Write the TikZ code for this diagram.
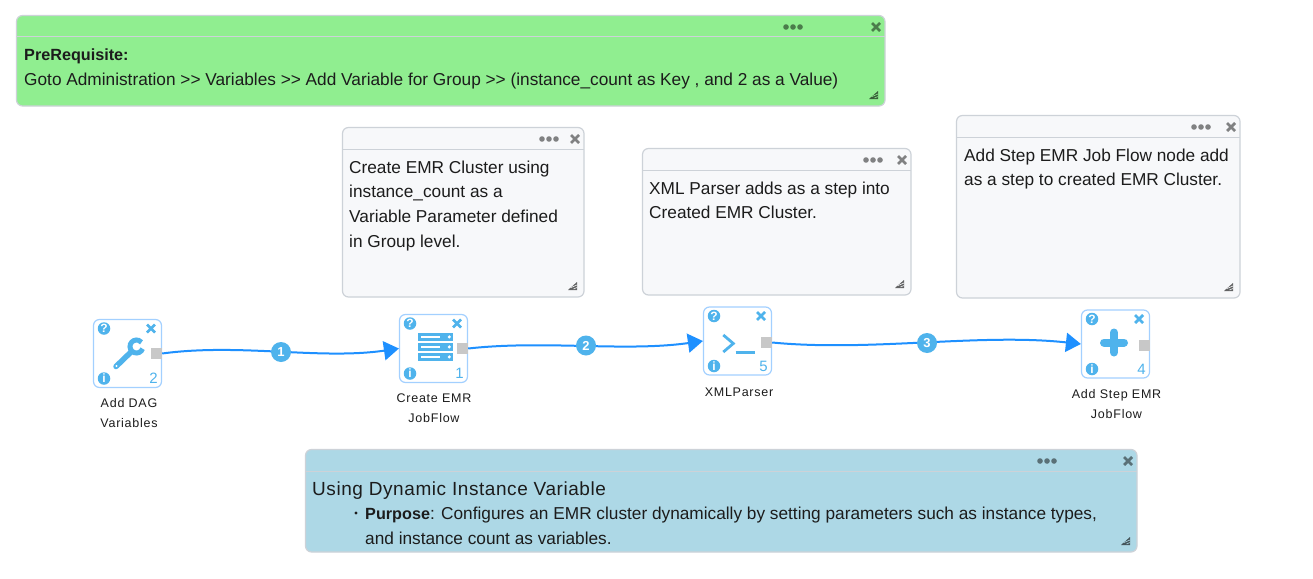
\documentclass[tikz,border=0pt]{standalone}
\usepackage{fontspec}
\setmainfont{Liberation Sans}
\newfontfamily\labelfont[LetterSpace=6]{Liberation Sans}
\newfontfamily\titlefont[LetterSpace=3]{Liberation Sans}
\usetikzlibrary{arrows.meta}
\definecolor{iconblue}{HTML}{4FB3EC}
\definecolor{boxedge}{HTML}{A3D0FF}
\definecolor{linkblue}{HTML}{1E90FF}
\definecolor{portgrey}{HTML}{C8C8C8}
\definecolor{noteedge}{HTML}{CDD2D8}
\definecolor{notefill}{HTML}{F7F8FA}
\definecolor{greenfill}{HTML}{90EE90}
\definecolor{bluefill}{HTML}{ADD8E6}
\definecolor{inktext}{HTML}{1C1C1C}
\newcommand{\notebold}[1]{{\fontsize{16.2}{24.6}\selectfont\bfseries #1}}
\tikzset{
  x=1pt,y=-1pt,
  stepbox/.style={draw=boxedge,line width=1.2pt,fill=white,rounded corners=6pt,minimum width=68pt,minimum height=68pt,inner sep=0pt},
  portbox/.style={fill=portgrey,minimum width=11pt,minimum height=11pt,inner sep=0pt},
  badge/.style={circle,fill=iconblue,minimum size=20pt,inner sep=0pt,text=white,font=\fontsize{13}{13}\selectfont\bfseries},
  link/.style={draw=linkblue,line width=2pt,-{Triangle[length=15pt,width=19pt]}},
  steplabel/.style={font=\labelfont\fontsize{12.5}{20}\selectfont,text=inktext,align=center,inner sep=0pt,anchor=north},
  notetext/.style={font=\fontsize{17.25}{24.6}\selectfont,text=inktext,align=left,inner sep=0pt,anchor=north west},
  noteshape/.style={draw=noteedge,line width=1.2pt,rounded corners=6pt,inner sep=0pt},
  iconround/.style={circle,fill=iconblue,minimum size=12.5pt,inner sep=0pt,text=white,font=\fontsize{12}{12}\selectfont\bfseries},
  iconnum/.style={text=iconblue,inner sep=0pt,font=\fontsize{15}{15}\selectfont},
}
% note: name, x1, y1, x2, y2, fill, centre of the header dots
\newcommand{\notebox}[7]{%
  \pgfmathsetmacro{\nw}{#4-#2}\pgfmathsetmacro{\nh}{#5-#3}%
  \pgfmathsetmacro{\ncx}{(#2+#4)/2}\pgfmathsetmacro{\ncy}{(#3+#5)/2}%
  \pgfmathsetmacro{\nl}{#3+21.5}\pgfmathsetmacro{\nm}{#3+11.5}%
  \pgfmathsetmacro{\nxc}{#4-9}%
  \pgfmathsetmacro{\nda}{#7-7}\pgfmathsetmacro{\ndb}{#7+7}%
  \pgfmathsetmacro{\nra}{#4-16}\pgfmathsetmacro{\nrb}{#5-7}\pgfmathsetmacro{\nrc}{#4-7}\pgfmathsetmacro{\nrd}{#5-15}%
  \node[noteshape,fill=#6,minimum width=\nw pt,minimum height=\nh pt] (#1) at (\ncx,\ncy) {};
  \draw[noteedge,line width=1pt] (#2,\nl) -- (#4,\nl);
  \fill[black,opacity=.48] (\nda,\nm) circle (2.8) (#7,\nm) circle (2.8) (\ndb,\nm) circle (2.8);
  \draw[black,opacity=.48,line width=2.8pt] (\nxc-4,\nm-4) -- (\nxc+4,\nm+4) (\nxc-4,\nm+4) -- (\nxc+4,\nm-4);
  \fill[black,opacity=.6] (\nra,\nrb) -- (\nrc,\nrd) -- (\nrc,\nrb) -- cycle;
  \draw[#6,line width=.6pt] (\nra+3,\nrb-2.5) -- (\nrc,\nrd+3) (\nra+5.5,\nrb-1) -- (\nrc,\nrd+5.5);
}
% step icons: name, x, y of box top-left, number
\newcommand{\stepmarks}[4]{%
  \node[iconround] (#1q) at (#2+10.5,#3+9) {?};
  \node[iconround] (#1i) at (#2+10.5,#3+59) {i};
  \draw[iconblue,line width=2.8pt] (#2+53.5,#3+5) -- (#2+61.5,#3+13) (#2+53.5,#3+13) -- (#2+61.5,#3+5);
  \node[iconnum] (#1n) at (#2+60,#3+59) {#4};
}
\begin{document}
\begin{tikzpicture}
\useasboundingbox (0,0) rectangle (1313,578);
\fill[white] (0,0) rectangle (1313,578);

\notebox{nA}{16.5}{15.5}{885}{106}{greenfill}{793}
\node[notetext] (tA) at (24,48.5) {\notebold{PreRequisite:}\\Goto Administration >{}> Variables >{}> Add Variable for Group >{}> (instance\_count as Key , and 2 as a Value)};

\notebox{nB}{342.5}{127.5}{584}{297}{notefill}{549}
\node[notetext] (tB) at (349,160.5) {Create EMR Cluster using\\instance\_count as a\\Variable Parameter defined\\in Group level.};

\notebox{nC}{642.5}{148.5}{911}{295}{notefill}{873}
\node[notetext] (tC) at (649,181.5) {XML Parser adds as a step into\\Created EMR Cluster.};

\notebox{nD}{956.5}{115.5}{1240}{298}{notefill}{1201}
\node[notetext] (tD) at (964,148.5) {Add Step EMR Job Flow node add\\as a step to created EMR Cluster.};

\notebox{nE}{305.5}{449.5}{1137}{552}{bluefill}{1047}
\node[notetext,font=\titlefont\fontsize{19}{24}\selectfont] (tE) at (312,481.5) {Using Dynamic Instance Variable};
\node[notetext] (tF) at (365,507) {\notebold{Purpose}: Configures an EMR cluster dynamically by setting parameters such as instance types,\\and instance count as variables.};
\fill[inktext] (356,513) circle (1.6);

% step boxes
\node[stepbox] (b1) at (127.5,353.5) {};
\node[stepbox] (b2) at (433.5,348.5) {};
\node[stepbox] (b3) at (737.5,341) {};
\node[stepbox] (b4) at (1115.5,344) {};

\stepmarks{b1}{93.5}{319.5}{2}
\stepmarks{b2}{399.5}{314.5}{1}
\stepmarks{b3}{703.5}{307}{5}
\stepmarks{b4}{1081.5}{310}{4}

% wrench
\draw[iconblue,line width=5.5pt,line cap=round] (116,366.5) -- (131,352);
\fill[white] (116.5,366) circle (1.1);
\draw[iconblue,line width=5pt] (136.5,346.5) ++(20:6.5) arc (20:320:6.5);
% servers
\foreach \yy in {333.3,343.3,353.3}{
  \fill[iconblue] (418.3,\yy) rectangle (452.7,\yy+7.2);
  \fill[white] (421,\yy+2.9) rectangle (440,\yy+4.3);
  \fill[white] (449.3,\yy+3.6) circle (1.7);
}
% terminal
\draw[iconblue,line width=2.8pt,line join=miter] (723.3,335) -- (733.3,343.5) -- (723.3,352);
\draw[iconblue,line width=2.8pt] (735.7,352.5) -- (755,352.5);
% plus
\draw[iconblue,line width=8pt,line cap=round] (1104,342.5) -- (1124,342.5) (1114,332.5) -- (1114,352.5);

\node[portbox] (p1) at (156.5,353.5) {};
\node[portbox] (p2) at (462.5,348.5) {};
\node[portbox] (p3) at (766.5,342.5) {};
\node[portbox] (p4) at (1144.5,345.5) {};

% connectors
\draw[link] (p1.east) .. controls (240,343) and (320,360) .. (b2.west);
\draw[link] (p2.east) .. controls (545,340) and (625,352) .. (b3.west);
\draw[link] (p3.east) .. controls (870,352) and (980,333) .. (b4.west);

\node[badge] (c1) at (281,352) {1};
\node[badge] (c2) at (586,345.5) {2};
\node[badge] (c3) at (927,343) {3};

% labels
\node[steplabel] (l1) at (129,398) {Add DAG\\Variables};
\node[steplabel] (l2) at (434,393.5) {Create EMR\\JobFlow};
\node[steplabel] (l3) at (739,388) {XMLParser};
\node[steplabel] (l4) at (1116.5,389.5) {Add Step EMR\\JobFlow};
\end{tikzpicture}
\end{document}
